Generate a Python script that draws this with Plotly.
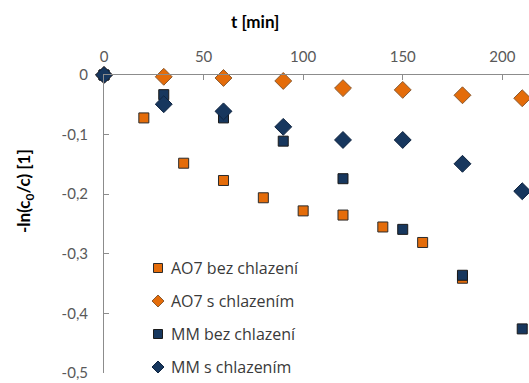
import plotly.graph_objects as go

# time points [min]
t_ao7_bez = [0, 20, 40, 60, 80, 100, 120, 140, 160, 180]
t_common = [0, 30, 60, 90, 120, 150, 180, 210]

# -ln(c0/c) values
ao7_bez = [0, -0.072, -0.148, -0.177, -0.206, -0.228, -0.235, -0.255, -0.281, -0.341]
ao7_s = [0, -0.003, -0.005, -0.010, -0.022, -0.025, -0.034, -0.039]
mm_bez = [0, -0.033, -0.072, -0.111, -0.174, -0.259, -0.336, -0.426]
mm_s = [0, -0.049, -0.061, -0.087, -0.109, -0.109, -0.149, -0.195]

names = ["AO7 bez chlazení", "AO7 s chlazením", "MM bez chlazení", "MM s chlazením"]

x_ticks = [0, 50, 100, 150, 200, 250]
y_ticks = [0, -0.1, -0.2, -0.3, -0.4, -0.5]
y_tick_text = ["0", "-0,1", "-0,2", "-0,3", "-0,4", "-0,5"]

ORANGE = "#E46C0A"
NAVY = "#17375E"
FONT = "Lato"

# plot area in pixels
W, H = 529, 383
ML, MR, MT, MB = 104, 0, 75, 10
PW, PH = W - ML - MR, H - MT - MB


def px_x(px):
    return (px - ML) / PW


def px_y(py):
    return 1 - (py - MT) / PH


fig = go.Figure()

series = [
    (t_ao7_bez, ao7_bez, names[0], "square", ORANGE, 10, "#2b2b2b"),
    (t_common, ao7_s, names[1], "diamond", ORANGE, 13, "#8a5a30"),
    (t_common, mm_bez, names[2], "square", NAVY, 10, "#1a1a1a"),
    (t_common, mm_s, names[3], "diamond", NAVY, 13, "#0f2440"),
]
for xs, ys, name, sym, col, size, lc in series:
    fig.add_trace(go.Scatter(
        x=xs, y=ys, name=name, mode="markers", cliponaxis=False,
        showlegend=False,
        marker=dict(symbol=sym, color=col, size=size,
                    line=dict(color=lc, width=1)),
    ))

# legend drawn as shapes + labels inside the plot area
shapes, annotations = [], []
leg_x, text_x = 158, 169
row_y = [268, 301, 334, 367]
for (_, _, name, sym, col, _, lc), ry in zip(series, row_y):
    common = dict(xref="paper", yref="paper", xsizemode="pixel", ysizemode="pixel",
                  xanchor=px_x(leg_x), yanchor=px_y(ry),
                  fillcolor=col, line=dict(color=lc, width=1))
    if sym == "square":
        shapes.append(dict(type="rect", x0=-4.5, x1=4.5, y0=-4.5, y1=4.5, **common))
    else:
        shapes.append(dict(type="path", path="M-6,0 L0,6 L6,0 L0,-6 Z", **common))
    annotations.append(dict(
        text=name, xref="paper", yref="paper", x=px_x(text_x), y=px_y(ry),
        xanchor="left", yanchor="middle", showarrow=False,
        font=dict(family="Open Sans", size=16, color="#3a3a3a"),
    ))

annotations += [
    dict(text="<b>t [min]</b>", xref="paper", yref="paper",
         x=px_x(255), y=px_y(22), showarrow=False,
         xanchor="center", yanchor="middle",
         font=dict(family=FONT, size=17, color="#000000")),
    dict(text="<b>-ln(c<sub>0</sub>/c) [1]</b>", xref="paper", yref="paper",
         x=px_x(25), y=px_y(191), textangle=-90,
         showarrow=False, xanchor="center", yanchor="middle",
         font=dict(family=FONT, size=17, color="#000000")),
]

axis_col = "#8c8c8c"
fig.update_layout(
    width=W, height=H,
    margin=dict(l=ML, r=MR, t=MT, b=MB),
    paper_bgcolor="white", plot_bgcolor="white",
    font=dict(family=FONT, color="#595959"),
    showlegend=False,
    xaxis=dict(
        side="top", range=[0, 213.4], tickvals=x_ticks,
        showgrid=False, zeroline=False,
        showline=True, linecolor=axis_col, linewidth=1,
        ticks="inside", ticklen=5, tickcolor=axis_col,
        tickfont=dict(family=FONT, size=15, color="#595959"),
        ticklabelstandoff=6,
    ),
    yaxis=dict(
        range=[-0.5, 0], tickvals=y_ticks, ticktext=y_tick_text,
        showgrid=False, zeroline=False,
        showline=True, linecolor=axis_col, linewidth=1,
        ticks="inside", ticklen=5, tickcolor=axis_col,
        tickfont=dict(family=FONT, size=15, color="#595959"),
        ticklabelstandoff=12,
    ),
    shapes=shapes,
    annotations=annotations,
)

fig.write_html("out.html")
